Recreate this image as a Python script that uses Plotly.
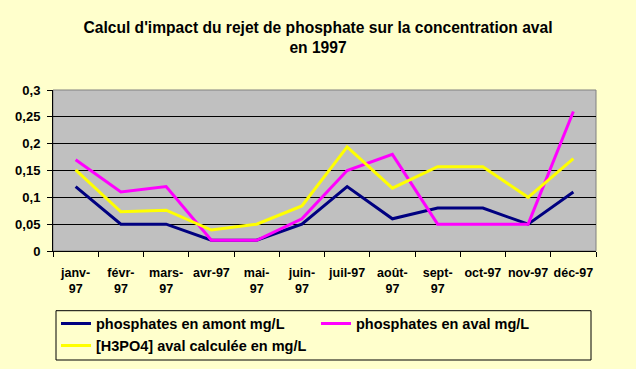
import plotly.graph_objects as go

months = ["janv-<br>97", "févr-<br>97", "mars-<br>97", "avr-97", "mai-<br>97", "juin-<br>97",
          "juil-97", "août-<br>97", "sept-<br>97", "oct-97", "nov-97", "déc-97"]
amont = [0.12, 0.05, 0.05, 0.02, 0.02, 0.05, 0.12, 0.06, 0.08, 0.08, 0.05, 0.11]
aval = [0.17, 0.11, 0.12, 0.02, 0.02, 0.06, 0.15, 0.18, 0.05, 0.05, 0.05, 0.26]
calc = [0.151, 0.073, 0.076, 0.039, 0.05, 0.084, 0.194, 0.117, 0.157, 0.157, 0.1, 0.172]
names = ["phosphates en amont mg/L", "phosphates en aval mg/L", "[H3PO4] aval calculée en mg/L"]
colors = ["#000080", "#FF00FF", "#FFFF00"]

fig = go.Figure()
for ys, nm, c in zip([amont, aval, calc], names, colors):
    fig.add_trace(go.Scatter(x=months, y=ys, name="<b>" + nm + "</b>", mode="lines",
                             line=dict(color=c, width=3)))

fig.update_layout(
    width=636, height=369,
    paper_bgcolor="#FFFFCC", plot_bgcolor="#C0C0C0",
    separators=",.",
    margin=dict(l=53, r=40, t=90, b=118, autoexpand=False),
    font=dict(family="Arial, Liberation Sans", color="black"),
    title=dict(text="<b>Calcul d'impact du rejet de phosphate sur la concentration aval<br>en 1997</b>",
               x=0.5, xref="container", xanchor="center", y=0.91, yref="container", yanchor="top",
               font=dict(size=15.6, family="Arial, Liberation Sans")),
    showlegend=True,
    legend=dict(orientation="h", x=0.0055, xanchor="left", y=-0.352, yanchor="top",
                bgcolor="rgba(0,0,0,0)", borderwidth=0,
                entrywidth=215, itemwidth=30, font=dict(size=14.5), tracegroupgap=0),
)
fig.update_xaxes(type="category", range=[-0.5, 11.5], tickson="boundaries", ticks="outside", ticklen=5,
                 tickcolor="black", showline=True, linecolor="black", linewidth=1,
                 showgrid=False, mirror=False, ticklabelstandoff=10,
                 tickfont=dict(size=12.5, family="Arial, Liberation Sans"),
                 tickprefix="<b>", ticksuffix="</b>", tickangle=0)
fig.update_yaxes(range=[0, 0.3], dtick=0.05, ticks="outside", ticklen=5, tickcolor="black",
                 showline=True, linecolor="black", linewidth=1, ticklabelstandoff=4,
                 showgrid=True, gridcolor="black", gridwidth=1, zeroline=False,
                 tickfont=dict(size=13, family="Arial, Liberation Sans"),
                 tickprefix="<b>", ticksuffix="</b>")
fig.add_shape(type="rect", xref="paper", yref="paper", x0=0, y0=0, x1=1, y1=1,
              line=dict(color="#808080", width=1), layer="below")
# legend frame
fig.add_shape(type="rect", xref="paper", yref="paper",
              x0=3 / 543, x1=538 / 543, y0=-109 / 161, y1=-59.7 / 161,
              line=dict(color="black", width=1), fillcolor="rgba(0,0,0,0)", layer="above")

fig.write_html("out.html", config={"displayModeBar": False},
               post_script="document.body.style.margin='0';document.body.style.background='#FFFFCC';")
